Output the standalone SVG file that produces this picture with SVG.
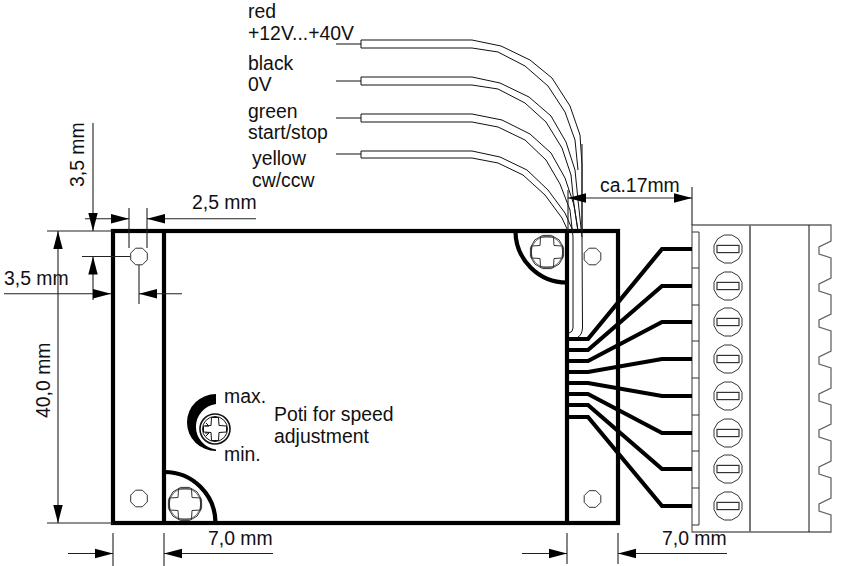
<svg xmlns="http://www.w3.org/2000/svg" xmlns:xlink="http://www.w3.org/1999/xlink" width="844" height="566" viewBox="0 0 844 566">
<style>
text{font-family:"Liberation Sans",Arial,sans-serif;font-size:19.4px;fill:#111}
.thin,.dim,.tube,.scr,.gr{fill:none}
.thin{stroke:#111;stroke-width:1}
.dim{stroke:#222;stroke-width:1.1}
.tube{stroke:#111;stroke-width:1;stroke-linejoin:miter}
.thick{fill:none;stroke:#000;stroke-width:4.2}
.wire{fill:none;stroke:#000;stroke-width:4.2;stroke-linejoin:miter}
.scr{stroke:#333;stroke-width:1}
.gr{stroke:#666;stroke-width:1.6}
.bar{fill:#000;stroke:none}
</style>
<defs>
<polygon id="hole" class="scr" points="8.3,3.4 3.4,8.3 -3.4,8.3 -8.3,3.4 -8.3,-3.4 -3.4,-8.3 3.4,-8.3 8.3,-3.4"/>
<g id="screw" class="scr">
<polygon points="16.6,4.4 12.1,12.1 4.4,16.6 -4.4,16.6 -12.1,12.1 -16.6,4.4 -16.6,-4.4 -12.1,-12.1 -4.4,-16.6 4.4,-16.6 12.1,-12.1 16.6,-4.4"/>
<circle r="15.8" stroke-width="0.7"/>
<path d="M-6.500-15H6.500L7-6.500L15.500-6V6L7 6.500L6.500 15H-6.500L-7 6.500L-15.500 6V-6L-7-6.500Z"/>
</g>
<g id="term">
<polygon class="scr" points="14,3.75 10.25,10.25 3.75,14 -3.75,14 -10.25,10.25 -14,3.75 -14,-3.75 -10.25,-10.25 -3.75,-14 3.75,-14 10.25,-10.25 14,-3.75"/>
<rect x="-11" y="-3.600" width="22" height="7.200" fill="none" stroke="#333" stroke-width="1.200"/>
</g>
<polygon id="aR" class="bar" points="0,0 -18,-4.700 -18,4.700"/>
<polygon id="aL" class="bar" points="0,0 18,-4.700 18,4.700"/>
<polygon id="aD" class="bar" points="0,0 -4.700,-18 4.700,-18"/>
<polygon id="aU" class="bar" points="0,0 -4.700,18 4.700,18"/>
</defs>

<g id="connector-block">
<path class="gr" d="M692 225H831V241L819 247V254L831 258V278L819 284V291L831 295V314L819 320V327L831 331V351L819 357V364L831 368V388L819 394V401L831 405V424L819 430V437L831 441V461L819 467V474L831 478V498L819 504V511L831 515V532H692Z" style="stroke-width:1.3"/>
<path d="M750 225V532" fill="none" stroke="#777" stroke-width="2"/>
<path class="thin" d="M809 225V532"/>
<path class="scr" d="M692 232H699V525H692M692 268H699M692 305H699M692 341H699M692 378H699M692 415H699M692 451H699M692 488H699"/>
<use xlink:href="#term" href="#term" x="728" y="249"/>
<use xlink:href="#term" href="#term" x="728" y="286"/>
<use xlink:href="#term" href="#term" x="728" y="322"/>
<use xlink:href="#term" href="#term" x="728" y="359"/>
<use xlink:href="#term" href="#term" x="728" y="396"/>
<use xlink:href="#term" href="#term" x="728" y="433"/>
<use xlink:href="#term" href="#term" x="728" y="469"/>
<use xlink:href="#term" href="#term" x="728" y="506"/>
</g>

<g id="board">
<rect class="thick" x="113" y="231" width="505" height="292"/>
<path class="thick" d="M164 231V523M567 231V523"/>
<path class="thick" d="M515.500 231A51.500 51.500 0 0 0 567 282.500"/>
<path class="thick" d="M164 472A51 51 0 0 1 215.500 523"/>
</g>

<g id="holes">
<use xlink:href="#hole" href="#hole" x="139" y="256.500"/>
<use xlink:href="#hole" href="#hole" x="592.500" y="256.500"/>
<use xlink:href="#hole" href="#hole" x="139" y="498.500"/>
<use xlink:href="#hole" href="#hole" x="592.500" y="499"/>
</g>
<g id="screw-top"><use xlink:href="#screw" href="#screw" x="547" y="252"/></g>
<g id="screw-bottom"><use xlink:href="#screw" href="#screw" x="185" y="504"/></g>

<g id="poti">
<path class="bar" d="M216 394A29 28.500 0 0 0 216 451V449.500A23.500 23 0 0 1 216 404Z"/>
<g fill="none" stroke="#111">
<circle cx="215" cy="429" r="15" stroke-width="1.600"/>
<circle cx="215" cy="429" r="12.500" stroke-width="1"/>
<path d="M211.500 417.500H218.500L219 425.500L226.500 426V432L219 432.500L218.500 440.500H211.500L211 432.500L203.500 432V426L211 425.500Z" stroke-width="1"/>
<path d="M206 423L209 426M205 426H209M205 433H209M206 436L209 433" stroke-width="1"/>
</g>
</g>

<g id="connectors">
<g id="wires-thick">
<path class="wire" d="M569 339H588L662 249H692"/>
<path class="wire" d="M569 350H588L662 286H692"/>
<path class="wire" d="M569 361H588L662 322H692"/>
<path class="wire" d="M569 372H588L662 359H692"/>
<path class="wire" d="M569 383H588L662 396H692"/>
<path class="wire" d="M569 394H588L662 433H692"/>
<path class="wire" d="M569 405H588L662 469H692"/>
<path class="wire" d="M569 417H588L662 506H692"/>
</g>
<g id="cable-tubes">
<path class="tube" d="M336 44H361M336 81H361M336 118H361M336 154H361"/>
<path class="tube" d="M361 48V40H472L501 46L530 60L552 78L570 106L580 135L582 165V237L582.500 328Q582 335 578 337"/>
<path class="tube" d="M361 48H472L498 52L525 66L548 86L565 112L575 140L578 170"/>
<path class="tube" d="M361 85V77H472L500 83L529 97L551 116L566 142L575 170L578 200L582 237"/>
<path class="tube" d="M361 85H472L498 89L525 103L546 122L562 148L571 175L574 205L578 231"/>
<path class="tube" d="M361 122V114H472L502 120L530 134L551 153L565 178L574 205L578 231"/>
<path class="tube" d="M361 122H472L498 127L525 140L546 160L560 184L570 210L573 237V328Q573 332 569 333"/>
<path class="tube" d="M361 158V151H472L500 157L527 170L548 190L565 213L573 231"/>
<path class="tube" d="M361 158H472L498 163L523 175L545 195L562 218L568 231"/>
</g>
<g id="dimensions">
<path class="dim" d="M93 123V231M85 218.700H129M129 208V248M147 208V248M147 218.700H256"/>
<use xlink:href="#aD" href="#aD" x="93" y="231"/>
<use xlink:href="#aR" href="#aR" x="129" y="218.700"/>
<use xlink:href="#aL" href="#aL" x="147" y="218.700"/>
<path class="dim" d="M47 231H113M58 231V523M47 523H113"/>
<use xlink:href="#aU" href="#aU" x="58" y="231"/>
<use xlink:href="#aD" href="#aD" x="58" y="523"/>
<path class="dim" d="M82 256.500H130M93 256.500V300M4 293.700H111M139 265V304M139 293.700H182"/>
<use xlink:href="#aU" href="#aU" x="93" y="256.500"/>
<use xlink:href="#aR" href="#aR" x="111" y="293.700"/>
<use xlink:href="#aL" href="#aL" x="139" y="293.700"/>
<path class="dim" d="M568 190V231M582 144V231M568 198H692M692 187V225"/>
<use xlink:href="#aL" href="#aL" x="568" y="198"/>
<use xlink:href="#aR" href="#aR" x="692" y="198"/>
<path class="dim" d="M68 553.500H113M113 533V566M164 533V566M164 553.500H273"/>
<use xlink:href="#aR" href="#aR" x="113" y="553.500"/>
<use xlink:href="#aL" href="#aL" x="164" y="553.500"/>
<path class="dim" d="M522 553.500H567M567 533V564M618 533V564M618 553.500H727"/>
<use xlink:href="#aR" href="#aR" x="567" y="553.500"/>
<use xlink:href="#aL" href="#aL" x="618" y="553.500"/>
</g>
</g>

<g id="labels">
<text x="248" y="18">red</text>
<text x="248" y="40">+12V...+40V</text>
<text x="248" y="70">black</text>
<text x="248" y="91">0V</text>
<text x="248" y="118">green</text>
<text x="248" y="139">start/stop</text>
<text x="252" y="165">yellow</text>
<text x="252" y="187">cw/ccw</text>
<text x="600" y="192">ca.17mm</text>
<text x="192" y="209">2,5 mm</text>
<text x="4" y="285">3,5 mm</text>
<text transform="translate(84 187) rotate(-90)">3,5 mm</text>
<text transform="translate(50 418) rotate(-90)">40,0 mm</text>
<text x="224" y="403">max.</text>
<text x="224" y="461">min.</text>
<text x="274" y="421">Poti for speed</text>
<text x="274" y="443">adjustment</text>
<text x="208" y="545">7,0 mm</text>
<text x="662" y="545">7,0 mm</text>
</g>
</svg>
